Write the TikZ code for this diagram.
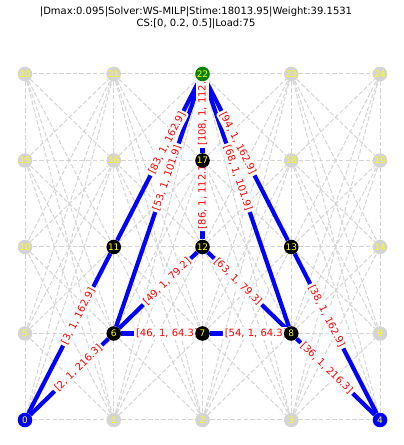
\documentclass[tikz,border=0pt]{standalone}
\usepackage{fontspec}
\setmainfont{DejaVu Sans}
\usetikzlibrary{backgrounds}

\definecolor{lgrey}{rgb}{0.83, 0.83, 0.83}
\definecolor{nodeyellow}{rgb}{1, 1, 0}
\definecolor{pathblue}{rgb}{0, 0, 1}
\definecolor{labelred}{rgb}{1, 0, 0}
\definecolor{sinkgreen}{rgb}{0, 0.5, 0}

\tikzset{
	vertex/.style={circle, fill=lgrey, minimum size=14.6pt, inner sep=0pt, text=nodeyellow, font=\fontsize{9}{9}\selectfont},
	usedvertex/.style={vertex, fill=black},
	endvertex/.style={vertex, fill=pathblue},
	sinkvertex/.style={vertex, fill=sinkgreen},
	griddash/.style={draw=lgrey, line width=1pt, dash pattern=on 4.5pt off 2.2pt},
	flowedge/.style={draw=pathblue, line width=4.2pt},
	flowlabel/.style={pos=0.6, sloped, fill=white, text=labelred, inner sep=2pt, rounded corners=2pt, font=\fontsize{10}{10}\selectfont}
}

\begin{document}
\begin{tikzpicture}[x=1pt,y=1pt]
		% Fix the frame of the picture
		\useasboundingbox (0,0) rectangle (404,445);

		% The title in two lines
		\node[align=center, font=\fontsize{10}{12}\selectfont] (title) at (196,426.7) {|Dmax:0.095|Solver:WS-MILP|Stime:18013.95|Weight:39.1531\\CS:[0, 0.2, 0.5]|Load:75};

		% The 5x5 grid of vertices, numbered row by row from the bottom
		\foreach \id/\kind in {0/endvertex,1/vertex,2/vertex,3/vertex,4/endvertex,
			5/vertex,6/usedvertex,7/usedvertex,8/usedvertex,9/vertex,
			10/vertex,11/usedvertex,12/usedvertex,13/usedvertex,14/vertex,
			15/vertex,16/vertex,17/usedvertex,18/vertex,19/vertex,
			20/vertex,21/vertex,22/sinkvertex,23/vertex,24/vertex}
		{
			\pgfmathtruncatemacro\col{mod(\id,5)}
			\pgfmathtruncatemacro\row{div(\id,5)}
			\node[\kind] (n\id) at ({25+88.75*\col},{25+86.5*\row}) {\id};
		}

		\begin{scope}[on background layer]
			% The dashed grey edges between neighbouring columns
			\foreach \c in {0,...,3}
			\foreach \r in {0,...,4}
			\foreach \s in {0,...,4}
			{
				\pgfmathtruncatemacro\a{5*\r+\c}
				\pgfmathtruncatemacro\b{5*\s+\c+1}
				\draw[griddash] (n\a) -- (n\b);
			}

			% The dashed grey edges inside each column
			\foreach \c in {0,...,4}
			\foreach \r in {0,...,3}
			{
				\pgfmathtruncatemacro\a{5*\r+\c}
				\pgfmathtruncatemacro\b{5*\r+\c+5}
				\draw[griddash] (n\a) -- (n\b);
			}

			% The blue edges of the solution
			\foreach \u/\v in {0/6, 0/11, 6/7, 6/12, 6/22, 11/22, 12/17, 17/22, 7/8, 8/12, 4/8, 4/13, 8/22, 13/22}
				\draw[flowedge] (n\u) -- (n\v);

			% The red labels of the blue edges, measured from centre to centre
			\path (n0.center) -- (n6.center) node[flowlabel] {[2, 1, 216.3]};
			\path (n0.center) -- (n11.center) node[flowlabel] {[3, 1, 162.9]};
			\path (n6.center) -- (n7.center) node[flowlabel] {[46, 1, 64.3]};
			\path (n6.center) -- (n12.center) node[flowlabel] {[49, 1, 79.2]};
			\path (n6.center) -- (n22.center) node[flowlabel] {[53, 1, 101.9]};
			\path (n11.center) -- (n22.center) node[flowlabel] {[83, 1, 162.9]};
			\path (n12.center) -- (n17.center) node[flowlabel] {[86, 1, 112.1]};
			\path (n17.center) -- (n22.center) node[flowlabel] {[108, 1, 112.1]};
			\path (n7.center) -- (n8.center) node[flowlabel] {[54, 1, 64.3]};
			\path (n8.center) -- (n12.center) node[flowlabel] {[63, 1, 79.3]};
			\path (n4.center) -- (n8.center) node[flowlabel] {[36, 1, 216.3]};
			\path (n4.center) -- (n13.center) node[flowlabel] {[38, 1, 162.9]};
			\path (n8.center) -- (n22.center) node[flowlabel] {[68, 1, 101.9]};
			\path (n13.center) -- (n22.center) node[flowlabel] {[94, 1, 162.9]};
		\end{scope}
	\end{tikzpicture}
\end{document}
